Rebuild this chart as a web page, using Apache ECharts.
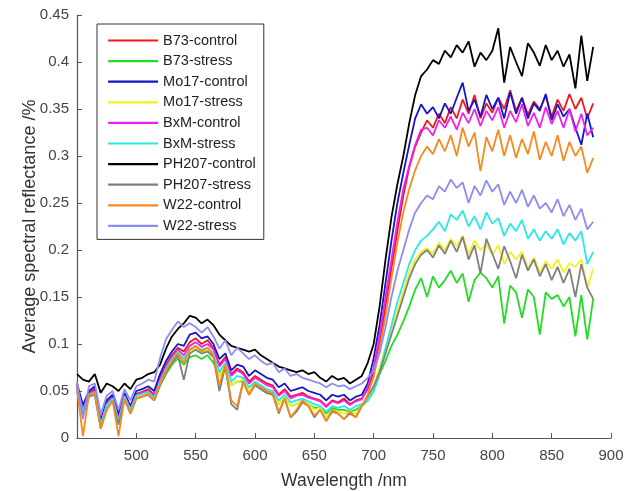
<!DOCTYPE html>
<html>
<head>
<meta charset="utf-8">
<script src="https://cdn.jsdelivr.net/npm/echarts@6/dist/echarts.min.js"></script>
<style>
html,body{margin:0;padding:0;background:#fff;}
#chart{width:626px;height:491px;}
</style>
</head>
<body>
<div id="chart"></div>
<script>
const wavelengths = [450,455,460,465,470,475,480,485,490,495,500,505,510,515,520,525,530,535,540,545,550,555,560,565,570,575,580,585,590,595,600,605,610,615,620,625,630,635,640,645,650,655,660,665,670,675,680,685,690,695,700,705,710,715,720,725,730,735,740,745,750,755,760,765,770,775,780,785,790,795,800,805,810,815,820,825,830,835,840,845,850,855,860,865,870,875,880,885];

const seriesNames = ['B73-control','B73-stress','Mo17-control','Mo17-stress','BxM-control','BxM-stress','PH207-control','PH207-stress','W22-control','W22-stress'];

const b73Control = [0.055,0.032,0.048,0.052,0.016,0.038,0.044,0.022,0.046,0.032,0.047,0.049,0.052,0.046,0.064,0.078,0.088,0.096,0.092,0.102,0.106,0.100,0.104,0.096,0.078,0.086,0.068,0.074,0.070,0.060,0.066,0.062,0.058,0.056,0.046,0.052,0.044,0.046,0.048,0.044,0.042,0.040,0.034,0.040,0.038,0.042,0.036,0.040,0.042,0.052,0.070,0.100,0.140,0.180,0.220,0.258,0.288,0.310,0.325,0.338,0.330,0.345,0.335,0.352,0.340,0.360,0.345,0.365,0.340,0.356,0.346,0.362,0.350,0.370,0.348,0.362,0.344,0.358,0.350,0.364,0.342,0.360,0.348,0.366,0.350,0.362,0.340,0.356];

const b73Stress = [0.050,0.026,0.044,0.047,0.012,0.032,0.040,0.016,0.042,0.028,0.043,0.044,0.046,0.040,0.056,0.068,0.078,0.085,0.078,0.086,0.088,0.084,0.088,0.080,0.066,0.074,0.056,0.060,0.060,0.050,0.057,0.052,0.048,0.046,0.036,0.043,0.034,0.036,0.040,0.036,0.032,0.032,0.026,0.032,0.030,0.030,0.028,0.030,0.034,0.040,0.050,0.068,0.082,0.098,0.110,0.124,0.140,0.158,0.170,0.150,0.172,0.160,0.168,0.178,0.165,0.175,0.145,0.168,0.176,0.170,0.160,0.172,0.122,0.162,0.155,0.128,0.158,0.150,0.110,0.155,0.148,0.152,0.140,0.150,0.108,0.152,0.105,0.148];

const mo17Control = [0.058,0.035,0.050,0.055,0.018,0.040,0.046,0.025,0.048,0.034,0.050,0.052,0.055,0.050,0.068,0.082,0.092,0.100,0.098,0.110,0.112,0.106,0.108,0.100,0.084,0.090,0.072,0.078,0.076,0.066,0.072,0.068,0.064,0.062,0.054,0.058,0.050,0.052,0.054,0.050,0.048,0.046,0.040,0.046,0.044,0.046,0.040,0.044,0.046,0.058,0.085,0.120,0.165,0.210,0.250,0.282,0.312,0.340,0.355,0.345,0.352,0.340,0.356,0.345,0.362,0.378,0.348,0.360,0.342,0.365,0.350,0.362,0.340,0.368,0.345,0.362,0.340,0.356,0.348,0.366,0.338,0.355,0.342,0.350,0.330,0.312,0.345,0.320];

const mo17Stress = [0.050,0.025,0.044,0.047,0.012,0.032,0.040,0.016,0.042,0.028,0.043,0.045,0.047,0.041,0.058,0.072,0.082,0.090,0.082,0.092,0.096,0.092,0.094,0.088,0.066,0.078,0.056,0.060,0.062,0.050,0.058,0.054,0.050,0.048,0.036,0.044,0.034,0.036,0.040,0.036,0.030,0.032,0.022,0.030,0.028,0.026,0.028,0.026,0.034,0.042,0.055,0.075,0.096,0.116,0.136,0.156,0.176,0.190,0.198,0.202,0.196,0.208,0.200,0.212,0.204,0.215,0.196,0.210,0.200,0.206,0.195,0.205,0.185,0.198,0.190,0.198,0.180,0.192,0.176,0.188,0.180,0.190,0.176,0.186,0.182,0.190,0.160,0.180];

const bxmControl = [0.054,0.030,0.047,0.050,0.015,0.036,0.043,0.020,0.045,0.031,0.046,0.048,0.050,0.045,0.062,0.076,0.086,0.094,0.088,0.098,0.102,0.097,0.100,0.094,0.076,0.084,0.066,0.072,0.068,0.058,0.064,0.060,0.056,0.054,0.045,0.050,0.042,0.045,0.046,0.043,0.041,0.039,0.033,0.039,0.037,0.040,0.035,0.039,0.041,0.054,0.075,0.110,0.150,0.190,0.230,0.265,0.290,0.312,0.328,0.330,0.322,0.338,0.330,0.342,0.328,0.346,0.335,0.350,0.332,0.348,0.338,0.352,0.330,0.348,0.336,0.355,0.332,0.346,0.330,0.352,0.334,0.348,0.330,0.350,0.326,0.345,0.322,0.330];

const bxmStress = [0.053,0.028,0.046,0.049,0.014,0.035,0.042,0.018,0.044,0.030,0.045,0.047,0.049,0.043,0.060,0.074,0.084,0.092,0.084,0.094,0.098,0.094,0.096,0.090,0.070,0.080,0.060,0.066,0.064,0.054,0.060,0.056,0.052,0.050,0.040,0.046,0.038,0.040,0.042,0.039,0.036,0.034,0.028,0.034,0.032,0.034,0.030,0.034,0.036,0.040,0.050,0.070,0.095,0.120,0.145,0.165,0.185,0.200,0.210,0.215,0.222,0.230,0.220,0.238,0.232,0.242,0.225,0.236,0.222,0.240,0.228,0.234,0.215,0.228,0.220,0.232,0.212,0.222,0.210,0.220,0.212,0.222,0.206,0.218,0.210,0.220,0.185,0.198];

const ph207Control = [0.068,0.062,0.060,0.068,0.048,0.058,0.055,0.050,0.058,0.052,0.062,0.064,0.068,0.070,0.078,0.095,0.108,0.116,0.122,0.130,0.128,0.122,0.126,0.120,0.110,0.104,0.098,0.096,0.094,0.092,0.094,0.088,0.084,0.080,0.076,0.074,0.072,0.070,0.072,0.068,0.070,0.064,0.060,0.066,0.062,0.064,0.058,0.062,0.066,0.080,0.100,0.140,0.190,0.235,0.270,0.300,0.335,0.365,0.385,0.392,0.402,0.398,0.412,0.405,0.418,0.410,0.422,0.395,0.410,0.402,0.412,0.436,0.378,0.416,0.400,0.385,0.420,0.410,0.396,0.418,0.402,0.412,0.395,0.408,0.372,0.428,0.380,0.416];

const ph207Stress = [0.050,0.024,0.044,0.046,0.010,0.030,0.040,0.014,0.041,0.026,0.042,0.044,0.046,0.040,0.056,0.070,0.080,0.088,0.062,0.090,0.094,0.090,0.092,0.086,0.050,0.076,0.036,0.030,0.060,0.046,0.056,0.052,0.048,0.046,0.026,0.042,0.022,0.028,0.038,0.034,0.022,0.030,0.018,0.028,0.026,0.020,0.026,0.022,0.034,0.044,0.055,0.070,0.090,0.110,0.130,0.150,0.170,0.185,0.195,0.200,0.192,0.205,0.196,0.210,0.198,0.214,0.190,0.205,0.175,0.212,0.196,0.180,0.204,0.188,0.170,0.195,0.178,0.190,0.172,0.185,0.168,0.182,0.165,0.180,0.150,0.185,0.160,0.148];

const w22Control = [0.052,0.002,0.045,0.048,0.010,0.030,0.040,0.002,0.042,0.026,0.042,0.044,0.047,0.040,0.058,0.072,0.082,0.090,0.080,0.094,0.098,0.092,0.096,0.088,0.056,0.078,0.040,0.034,0.060,0.046,0.058,0.054,0.050,0.048,0.028,0.042,0.022,0.030,0.040,0.034,0.024,0.030,0.018,0.030,0.026,0.020,0.028,0.022,0.034,0.046,0.065,0.095,0.130,0.170,0.208,0.240,0.265,0.285,0.300,0.310,0.302,0.318,0.305,0.322,0.300,0.330,0.310,0.325,0.284,0.320,0.305,0.328,0.300,0.322,0.298,0.318,0.302,0.326,0.296,0.315,0.300,0.322,0.295,0.315,0.300,0.310,0.282,0.298];

const w22Stress = [0.060,0.020,0.055,0.058,0.025,0.045,0.050,0.030,0.052,0.040,0.055,0.058,0.062,0.060,0.085,0.105,0.115,0.124,0.118,0.122,0.118,0.112,0.118,0.108,0.095,0.104,0.088,0.096,0.090,0.084,0.088,0.082,0.078,0.080,0.070,0.074,0.066,0.068,0.064,0.062,0.060,0.058,0.054,0.058,0.055,0.056,0.052,0.055,0.058,0.064,0.072,0.090,0.118,0.150,0.178,0.200,0.222,0.240,0.250,0.258,0.254,0.268,0.262,0.275,0.266,0.272,0.250,0.268,0.258,0.274,0.262,0.270,0.248,0.262,0.250,0.264,0.246,0.258,0.244,0.250,0.240,0.254,0.236,0.248,0.232,0.244,0.222,0.230];

const seriesValues = [b73Control,b73Stress,mo17Control,mo17Stress,bxmControl,bxmStress,ph207Control,ph207Stress,w22Control,w22Stress];
const seriesColors = ['#f01818','#22dd22','#1515c8','#f5f020','#ee22ee','#28e8e8','#000000','#808080','#f58a1e','#8c8cf2'];

const yTicks = [0,0.05,0.1,0.15,0.2,0.25,0.3,0.35,0.4,0.45];

const chart = echarts.init(document.getElementById('chart'), null, {renderer:'canvas'});
const font = "'Liberation Sans', Arial, sans-serif";

const series = seriesNames.map((name, k) => ({
  name: name,
  type: 'line',
  symbol: 'none',
  animation: false,
  lineStyle: {color: seriesColors[k], width: 1.8},
  itemStyle: {color: seriesColors[k]},
  data: wavelengths.map((w, i) => [w, seriesValues[k][i]])
}));

chart.setOption({
  backgroundColor: '#ffffff',
  animation: false,
  grid: {left: 77, top: 15, width: 534, height: 423, containLabel: false, outerBoundsMode: 'none'},
  legend: {
    orient: 'vertical',
    left: 97,
    top: 24,
    data: seriesNames,
    itemWidth: 50,
    itemHeight: 14,
    itemGap: 5.6,
    padding: [9, 8, 6, 10],
    borderColor: '#333333',
    borderWidth: 1,
    backgroundColor: '#ffffff',
    itemStyle: {opacity: 0},
    lineStyle: {width: 2.2},
    textStyle: {fontFamily: font, fontSize: 14.5, color: '#222222'}
  },
  xAxis: {
    type: 'value',
    min: 450,
    max: 900,
    interval: 50,
    name: 'Wavelength /nm',
    nameLocation: 'middle',
    nameGap: 34,
    nameMoveOverlap: false,
    nameTextStyle: {fontFamily: font, fontSize: 17.5, color: '#333333'},
    axisLine: {show: true, lineStyle: {color: '#555555', width: 1.2}},
    axisTick: {show: true, inside: true, length: 5, lineStyle: {color: '#555555'}},
    axisLabel: {
      fontFamily: font, fontSize: 15, color: '#444444', margin: 10,
      formatter: v => (v === 450 ? '' : String(v))
    },
    splitLine: {show: false}
  },
  yAxis: {
    type: 'value',
    min: 0,
    max: 0.45,
    interval: 0.05,
    name: 'Average spectral reflectance /%',
    nameLocation: 'middle',
    nameGap: 38,
    nameMoveOverlap: false,
    nameTextStyle: {fontFamily: font, fontSize: 18, color: '#333333'},
    axisLine: {show: true, lineStyle: {color: '#555555', width: 1.2}},
    axisTick: {show: true, inside: true, length: 5, lineStyle: {color: '#555555'}},
    axisLabel: {
      fontFamily: font, fontSize: 15, color: '#444444', margin: 8,
      formatter: v => {
        const t = yTicks.find(x => Math.abs(x - v) < 1e-6);
        return t === undefined ? '' : String(t);
      }
    },
    splitLine: {show: false}
  },
  series: series
});
</script>
</body>
</html>
